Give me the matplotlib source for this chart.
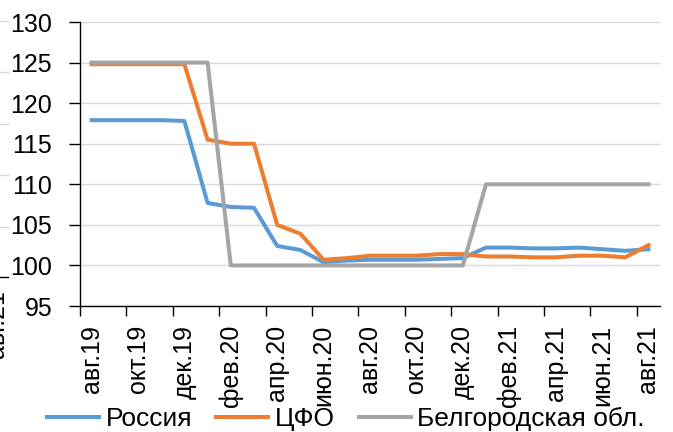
import matplotlib.pyplot as plt
from matplotlib.lines import Line2D

plt.rcParams['font.family'] = ['Liberation Sans', 'DejaVu Sans']

months = ['авг.19', 'сен.19', 'окт.19', 'ноя.19', 'дек.19',
          'янв.20', 'фев.20', 'мар.20', 'апр.20', 'май.20', 'июн.20',
          'июл.20', 'авг.20', 'сен.20', 'окт.20', 'ноя.20', 'дек.20',
          'янв.21', 'фев.21', 'мар.21', 'апр.21', 'май.21', 'июн.21',
          'июл.21', 'авг.21']

russia = [117.9, 117.9, 117.9, 117.9, 117.8, 107.7, 107.2, 107.1, 102.4,
          101.9, 100.4, 100.6, 100.7, 100.7, 100.7, 100.8, 100.9, 102.2,
          102.2, 102.1, 102.1, 102.2, 102.0, 101.8, 102.0]
cfo = [124.8, 124.8, 124.8, 124.8, 124.8, 115.5, 115.0, 115.0, 105.0,
       103.9, 100.7, 100.9, 101.2, 101.2, 101.2, 101.4, 101.4, 101.1,
       101.1, 101.0, 101.0, 101.2, 101.2, 101.0, 102.5]
belgorod = [125, 125, 125, 125, 125, 125, 100, 100, 100, 100, 100, 100,
            100, 100, 100, 100, 100, 110, 110, 110, 110, 110, 110, 110, 110]

series = [('Россия', russia, '#5B9BD5'),
          ('ЦФО', cfo, '#ED7D31'),
          ('Белгородская обл.', belgorod, '#A5A5A5')]

W, H = 673, 432
fig = plt.figure(figsize=(W / 100, H / 100), dpi=100)
ax = fig.add_axes([80 / W, 1 - 306 / H, 580 / W, 284 / H])

x = list(range(len(months)))
for name, vals, color in series:
    ax.plot(x, vals, color=color, lw=2.9, label=name, solid_joinstyle='round')

ax.set_xlim(-0.5, len(months) - 0.5)
ax.set_ylim(95, 130)
ax.set_yticks(range(95, 131, 5))
ax.yaxis.grid(True, color='#D9D9D9', lw=1)
ax.set_axisbelow(True)

ax.set_xticks(x[::2])
ax.set_xticklabels(months[::2], rotation=90)
ax.set_xticks([i - 0.5 for i in x[::2]][:-1] + [23.5], minor=True)
ax.tick_params(axis='x', which='major', length=0, pad=13.5, labelsize=18)
ax.tick_params(axis='x', which='minor', length=7, width=1)
ax.tick_params(axis='y', length=8, width=1, pad=12, labelsize=18)

for s in ['top', 'right']:
    ax.spines[s].set_visible(False)
for s in ['left', 'bottom']:
    ax.spines[s].set_linewidth(1)

fig.legend(loc='center', bbox_to_anchor=(346 / W, 1 - 419 / H), ncol=3,
           frameon=False, fontsize=19, handlelength=1.97, handletextpad=0.25,
           columnspacing=0.9, borderpad=0)

# fragment of a neighbouring chart cut at the left edge
for py in [21, 72, 124, 175, 227]:
    fig.add_artist(Line2D([0, 8 / W], [1 - py / H] * 2, color='#D9D9D9', lw=1))
fig.add_artist(Line2D([0, 8 / W], [1 - 277 / H] * 2, color='black', lw=1))
fig.text(-3 / W, 1 - 290 / H, 'авг.21', rotation=90, fontsize=18,
         ha='center', va='top')

fig.savefig('out.png', dpi=100)
